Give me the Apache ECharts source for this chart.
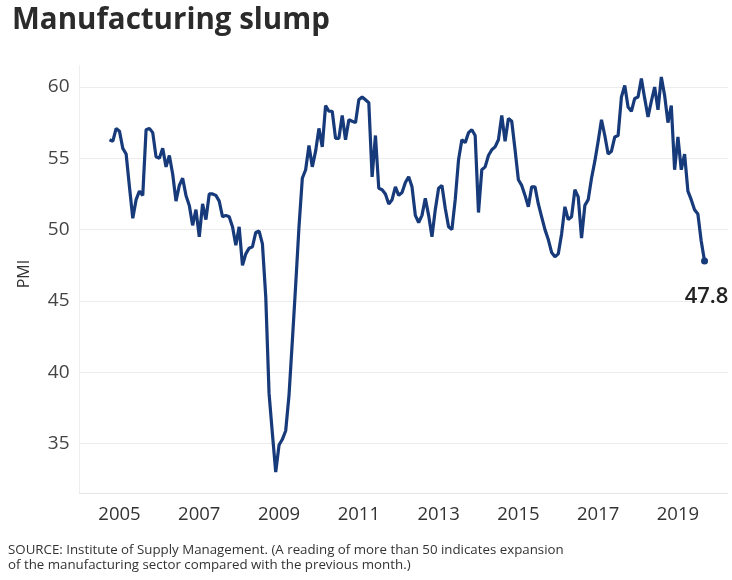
<!DOCTYPE html>
<html><head><meta charset="utf-8">
<script src="https://cdn.jsdelivr.net/npm/echarts@6/dist/echarts.min.js"></script>
<style>html,body{margin:0;padding:0;background:#fff}#c{width:732px;height:580px}</style>
</head><body><div id="c"></div>
<script>
const chartTitle = 'Manufacturing slump';
const sourceLines = [
  'SOURCE: Institute of Supply Management. (A reading of more than 50 indicates expansion',
  'of the manufacturing sector compared with the previous month.)'
];
const yTicks = [35, 40, 45, 50, 55, 60];
const yearLabels = ['2005', '2007', '2009', '2011', '2013', '2015', '2017', '2019'];
const axisFirstMonth = '2004-01';
const axisLastMonth = '2020-04';
const firstDataMonth = '2004-10';
// Monthly ISM manufacturing PMI, Oct 2004 - Sep 2019
const pmi2004 = [56.3, 56.2, 57.1];
const pmi2005 = [56.9, 55.7, 55.3, 53.0, 50.8, 52.1, 52.7, 52.4, 57.0, 57.1, 56.8, 55.1];
const pmi2006 = [55.0, 55.7, 54.4, 55.2, 53.9, 52.0, 53.1, 53.6, 52.4, 51.7, 50.3, 51.4];
const pmi2007 = [49.5, 51.8, 50.7, 52.5, 52.5, 52.4, 52.0, 50.9, 51.0, 50.9, 50.2, 48.9];
const pmi2008 = [50.2, 47.5, 48.3, 48.7, 48.8, 49.8, 49.9, 49.0, 45.3, 38.5, 35.7, 33.0];
const pmi2009 = [34.9, 35.3, 35.9, 38.4, 42.2, 46.1, 50.2, 53.6, 54.2, 55.9, 54.4, 55.5];
const pmi2010 = [57.1, 55.8, 58.7, 58.3, 58.3, 56.4, 56.4, 58.0, 56.3, 57.7, 57.6, 57.5];
const pmi2011 = [59.1, 59.3, 59.1, 58.9, 53.7, 56.6, 52.9, 52.8, 52.5, 51.8, 52.1, 53.0];
const pmi2012 = [52.4, 52.6, 53.3, 53.7, 53.0, 51.0, 50.5, 51.0, 52.2, 51.0, 49.5, 51.4];
const pmi2013 = [52.9, 53.1, 51.5, 50.2, 50.0, 52.1, 54.9, 56.3, 56.1, 56.8, 57.0, 56.6];
const pmi2014 = [51.2, 54.2, 54.4, 55.2, 55.6, 55.8, 56.3, 58.0, 56.2, 57.8, 57.6, 55.6];
const pmi2015 = [53.5, 53.1, 52.4, 51.6, 53.0, 53.0, 51.8, 50.9, 50.0, 49.3, 48.4, 48.1];
const pmi2016 = [48.3, 49.7, 51.6, 50.7, 50.9, 52.8, 52.3, 49.4, 51.7, 52.1, 53.6, 54.8];
const pmi2017 = [56.2, 57.7, 56.6, 55.3, 55.5, 56.5, 56.6, 59.3, 60.1, 58.6, 58.3, 59.2];
const pmi2018 = [59.3, 60.6, 59.2, 57.9, 59.0, 60.0, 58.4, 60.7, 59.4, 57.5, 58.7, 54.2];
const pmi2019 = [56.5, 54.2, 55.3, 52.7, 52.1, 51.4, 51.1, 49.2, 47.8];
const lastLabel = '47.8';

const pmi = [].concat(pmi2004, pmi2005, pmi2006, pmi2007, pmi2008, pmi2009, pmi2010,
  pmi2011, pmi2012, pmi2013, pmi2014, pmi2015, pmi2016, pmi2017, pmi2018, pmi2019);

function monthRange(a, b) {
  let [y, m] = a.split('-').map(Number);
  const out = [];
  for (;;) {
    const s = y + '-' + String(m).padStart(2, '0');
    out.push(s);
    if (s === b) break;
    m++; if (m > 12) { m = 1; y++; }
  }
  return out;
}
const axisMonths = monthRange(axisFirstMonth, axisLastMonth);
const startIdx = axisMonths.indexOf(firstDataMonth);
const dataMonths = axisMonths.slice(startIdx, startIdx + pmi.length);
const seriesData = pmi.map((v, i) => [dataMonths[i], v]);
const lastIdx = pmi.length - 1;
const lineColor = '#173a7a';
const font = 'Open Sans';

const chart = echarts.init(document.getElementById('c'), null, { renderer: 'canvas' });
chart.setOption({
  animation: false,
  backgroundColor: '#fff',
  textStyle: { fontFamily: font },
  title: [
    { text: chartTitle, left: 7, top: 1, padding: 5,
      textStyle: { fontSize: 29.5, fontWeight: 'bold', color: '#2b2b2b', fontFamily: font } },
    { text: sourceLines.join('\n'), left: 3, top: 537, padding: 5,
      textStyle: { fontSize: 13.3, fontWeight: 'normal', color: '#333', lineHeight: 15.5, fontFamily: font } }
  ],
  grid: { left: 79.6, right: 4.2, top: 65.6, bottom: 86.5, outerBoundsMode: 'none' },
  xAxis: {
    type: 'category', data: axisMonths, boundaryGap: false,
    axisLine: { show: true, lineStyle: { color: '#e6e6e6', width: 1 } },
    axisTick: { show: false },
    splitLine: { show: false },
    axisLabel: {
      interval: (i, v) => v.endsWith('-01') && yearLabels.includes(v.slice(0, 4)),
      formatter: v => v.slice(0, 4),
      fontSize: 18.5, color: '#333', margin: 12
    }
  },
  yAxis: {
    type: 'value', min: 31.5, max: 61.5,
    name: 'PMI', nameLocation: 'middle', nameGap: 47,
    nameTextStyle: { fontSize: 16, color: '#333', padding: [0, 0, 0, 11] },
    axisLine: { show: true, lineStyle: { color: '#eeeeee' } },
    axisTick: { show: false },
    splitLine: { show: true, showMaxLine: false, lineStyle: { color: '#ececec', width: 1 } },
    axisLabel: {
      showMinLabel: false, showMaxLabel: false,
      formatter: v => (yTicks.includes(v) ? String(v) : ''),
      fontSize: 19, color: '#444', margin: 10
    }
  },
  series: [{
    type: 'line', data: seriesData, showSymbol: false,
    lineStyle: { color: lineColor, width: 3.2 }, itemStyle: { color: lineColor },
    emphasis: { disabled: true },
    markPoint: {
      silent: true, symbol: 'circle', symbolSize: 7,
      itemStyle: { color: lineColor },
      label: { show: true, position: 'bottom', distance: 21, offset: [2, 0], formatter: lastLabel,
        fontSize: 22, fontWeight: 600, color: '#222', fontFamily: font },
      data: [{ coord: [dataMonths[lastIdx], pmi[lastIdx]] }]
    }
  }]
});
</script></body></html>
